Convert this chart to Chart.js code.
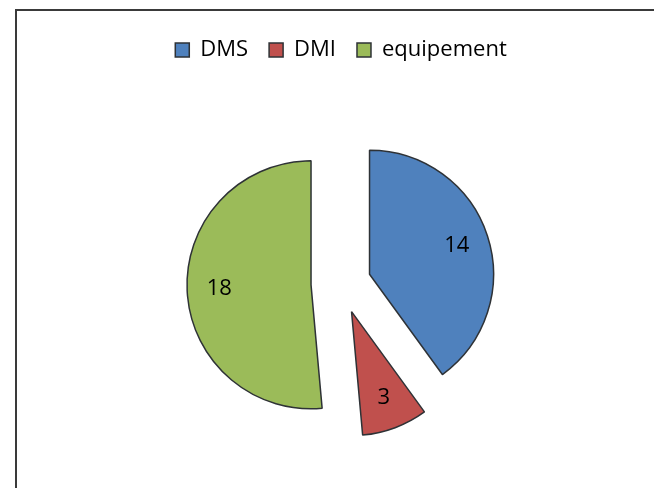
<!DOCTYPE html>
<html>
<head>
<meta charset="utf-8">
<title>Répartition</title>
<script src="https://cdn.jsdelivr.net/npm/chart.js@4"></script>
<style>
  html, body { margin: 0; padding: 0; background: #fff; overflow: hidden; }
  .frame { position: absolute; left: 15px; top: 9px; width: 700px; height: 600px; border: 2px solid #3a3a3a; }
  .wrap { position: absolute; left: 0; top: 0; width: 654px; height: 500px; }
</style>
</head>
<body>
<div class="frame"></div>
<div class="wrap"><canvas id="pie" width="654" height="500"></canvas></div>
<script>
/* ── données ─────────────────────────────────────────── */
const labels = ['DMS', 'DMI', 'equipement'];
const values = [14, 3, 18];
const colors = ['#4F81BD', '#C0504D', '#9BBB59'];

const EXPLODE = 30;      // éclatement des parts (px)
const LABEL_POS = 0.74;  // position des étiquettes, fraction du rayon
const FONT = { family: "'Open Sans', 'Noto Sans', sans-serif", size: 22 };

// parts éclatées : on dessine chaque arc nous-mêmes, décalé le long de son angle médian
const explodePlugin = {
  id: 'explode',
  beforeDatasetDraw(chart, args) {
    const ctx = chart.ctx;
    args.meta.data.forEach(arc => {
      const mid = (arc.startAngle + arc.endAngle) / 2;
      ctx.save();
      ctx.translate(Math.cos(mid) * EXPLODE, Math.sin(mid) * EXPLODE);
      arc.draw(ctx);
      ctx.restore();
    });
    return false;
  },
  afterDatasetsDraw(chart) {
    const ctx = chart.ctx;
    const meta = chart.getDatasetMeta(0);
    ctx.save();
    ctx.font = `${FONT.size}px ${FONT.family}`;
    ctx.fillStyle = '#000';
    ctx.textAlign = 'center';
    ctx.textBaseline = 'middle';
    meta.data.forEach((arc, i) => {
      const mid = (arc.startAngle + arc.endAngle) / 2;
      const d = EXPLODE + arc.outerRadius * LABEL_POS;
      ctx.fillText(String(values[i]), arc.x + Math.cos(mid) * d, arc.y + Math.sin(mid) * d);
    });
    ctx.restore();
  },
};

new Chart(document.getElementById('pie'), {
  type: 'pie',
  data: {
    labels,
    datasets: [{
      data: values,
      backgroundColor: colors,
      borderColor: '#2e3236',
      borderWidth: 1.5,
      radius: 124,
    }],
  },
  options: {
    responsive: false, animation: false,
    layout: { padding: { top: 18, left: 28, right: 0, bottom: 4 } },
    plugins: {
      legend: {
        position: 'top',
        labels: { boxWidth: 14, boxHeight: 14, padding: 21, color: '#000', font: FONT },
      },
      tooltip: { enabled: false },
    },
  },
  plugins: [explodePlugin],
});
</script>
</body>
</html>
